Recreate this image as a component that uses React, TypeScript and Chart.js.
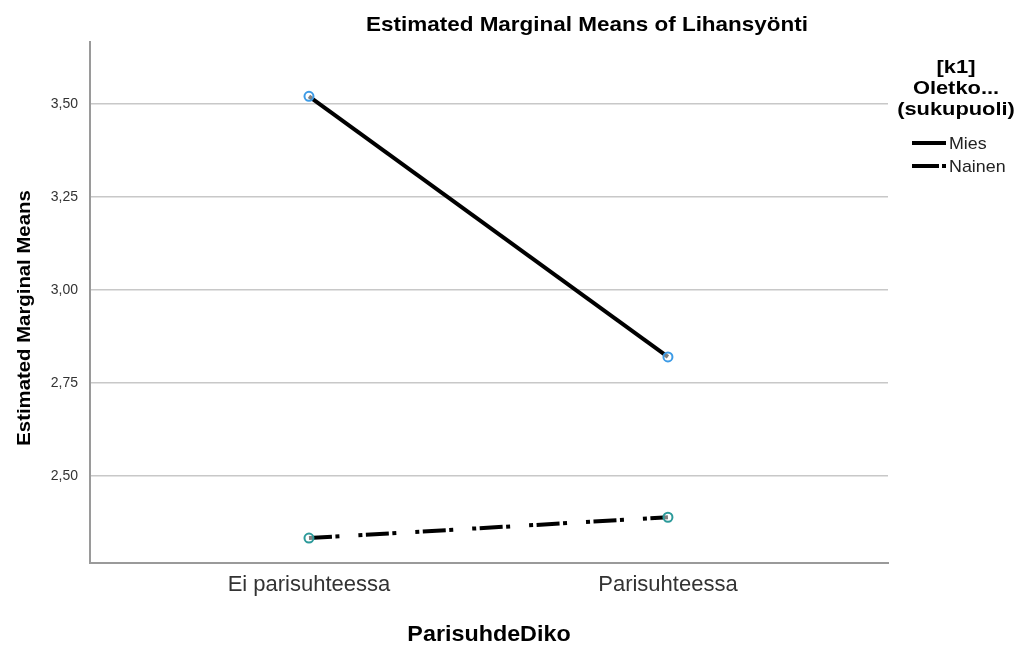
import React, { useEffect, useRef } from "react";
import { Chart, registerables } from "chart.js";

Chart.register(...registerables);

const categories = ["Ei parisuhteessa", "Parisuhteessa"];
const miesValues = [3.521, 2.82];
const nainenValues = [2.333, 2.389];
const yTicks = [2.5, 2.75, 3.0, 3.25, 3.5];
const seriesNames = ["Mies", "Nainen"];
const chartTitle = "Estimated Marginal Means of Lihansyönti";
const yTitle = "Estimated Marginal Means";
const xTitle = "ParisuhdeDiko";
const legendTitle = ["[k1]", "Oletko...", "(sukupuoli)"];

const FONT = "'Liberation Sans', Arial, sans-serif";

function stretchText(ctx: any, text: string, x: number, y: number, font: string, sx: number, align: string) {
  ctx.save();
  ctx.font = font;
  ctx.textAlign = align;
  ctx.textBaseline = "alphabetic";
  ctx.translate(x, y);
  ctx.scale(sx, 1);
  ctx.fillText(text, 0, 0);
  ctx.restore();
}

const textPlugin = {
  id: "spssText",
  afterDraw(chart: any) {
    const ctx = chart.ctx;
    const ca = chart.chartArea;
    ctx.save();
    ctx.fillStyle = "#000";
    stretchText(ctx, chartTitle, 587, 31, `bold 21px ${FONT}`, 1.07, "center");
    stretchText(ctx, xTitle, (ca.left + ca.right) / 2, 641, `bold 22px ${FONT}`, 1.06, "center");
    ctx.save();
    ctx.translate(30, 318);
    ctx.rotate(-Math.PI / 2);
    stretchText(ctx, yTitle, 0, 0, `bold 18px ${FONT}`, 1.13, "center");
    ctx.restore();
    const lty = [73, 94, 115];
    legendTitle.forEach((t, i) => stretchText(ctx, t, 956, lty[i], `bold 19px ${FONT}`, 1.15, "center"));
    const ly = [143, 166];
    const legendDash = [[], [27, 3, 4, 20]];
    chart.data.datasets.forEach((ds: any, i: number) => {
      ctx.save();
      ctx.strokeStyle = "#000";
      ctx.lineWidth = 4;
      ctx.setLineDash(legendDash[i]);
      ctx.beginPath();
      ctx.moveTo(912, ly[i]);
      ctx.lineTo(946, ly[i]);
      ctx.stroke();
      ctx.restore();
      ctx.fillStyle = "#222";
      stretchText(ctx, ds.label, 949, ly[i] + 6, `17px ${FONT}`, 1.05, "left");
    });
    ctx.restore();
  },
};

export default function App() {
  const ref = useRef<HTMLCanvasElement>(null);
  useEffect(() => {
    if (!ref.current) return;
    const chart = new Chart(ref.current, {
      type: "line",
      data: {
        datasets: [
          {
            label: seriesNames[0],
            data: miesValues.map((v, i) => ({ x: i, y: v })),
            borderColor: "#000",
            borderWidth: 4,
            pointRadius: 4.5,
            pointBorderWidth: 2,
            pointBorderColor: "#3d9be6",
            pointBackgroundColor: "rgba(255,255,255,0.5)",
          },
          {
            label: seriesNames[1],
            data: nainenValues.map((v, i) => ({ x: i, y: v })),
            borderColor: "#000",
            borderWidth: 4,
            borderDash: [23, 3.5, 4, 19, 4, 3.5],
            pointRadius: 4.5,
            pointBorderWidth: 2,
            pointBorderColor: "#2c9a9a",
            pointBackgroundColor: "rgba(255,255,255,0.5)",
          },
        ],
      },
      options: {
        animation: false,
        responsive: false,
        layout: { padding: { top: 42, right: 135, left: 0, bottom: 0 } },
        plugins: { legend: { display: false }, title: { display: false }, tooltip: { enabled: false } },
        scales: {
          x: {
            type: "linear",
            min: -0.61,
            max: 1.613,
            afterBuildTicks: (s: any) => {
              s.ticks = categories.map((_, i) => ({ value: i }));
            },
            afterFit: (s: any) => {
              s.height = 83;
            },
            ticks: {
              callback: (v: any) => categories[v as number] ?? "",
              font: { family: FONT, size: 22 },
              color: "#333",
              padding: 9,
              maxRotation: 0,
            },
            grid: { display: false, drawTicks: false },
            border: { display: true, color: "#9a9a9a", width: 2 },
          },
          y: {
            min: 2.266,
            max: 3.667,
            afterBuildTicks: (s: any) => {
              s.ticks = yTicks.map((v) => ({ value: v }));
            },
            afterFit: (s: any) => {
              s.width = 90;
            },
            ticks: {
              callback: (v: any) => Number(v).toFixed(2).replace(".", ","),
              font: { family: FONT, size: 14 },
              color: "#333",
              padding: 12,
            },
            grid: { color: "#c8c8c8", lineWidth: 1.5, drawTicks: false },
            border: { display: true, color: "#9a9a9a", width: 2 },
          },
        },
      },
      plugins: [textPlugin],
    });
    return () => chart.destroy();
  }, []);
  return (
    <div style={{ position: "fixed", left: 0, top: 0, width: 1023, height: 646, background: "#fff" }}>
      <canvas ref={ref} width={1023} height={646} style={{ width: 1023, height: 646 }} />
    </div>
  );
}
